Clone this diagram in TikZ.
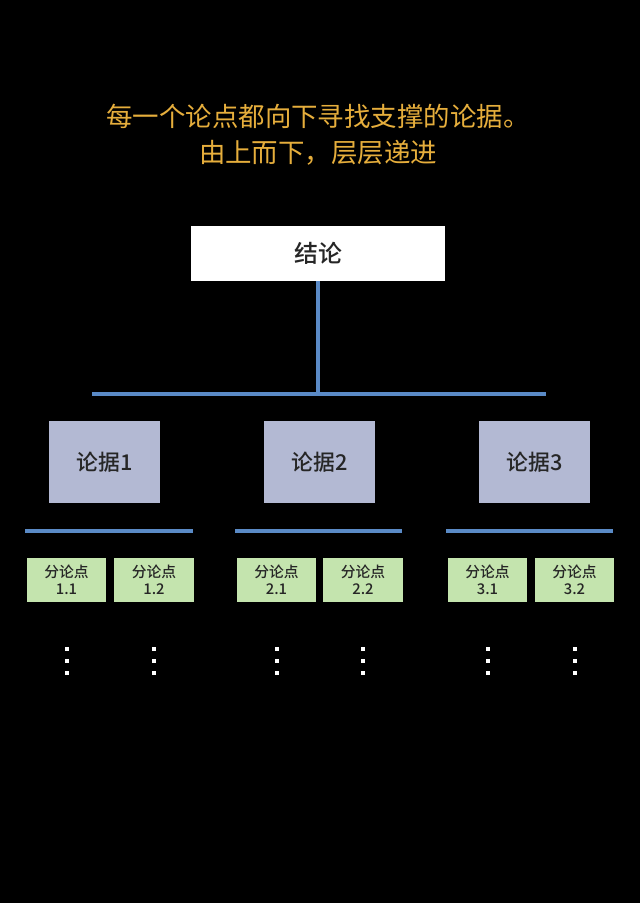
\documentclass[tikz,border=0pt]{standalone}
\usepackage{fontspec}
\setmainfont{Noto Sans CJK SC}
\newfontfamily\boxfont{Noto Sans CJK SC Medium}
\usetikzlibrary{positioning}
\definecolor{gold}{HTML}{E6AE3C}
\definecolor{linkblue}{HTML}{5A8AC6}
\definecolor{lavender}{HTML}{B3B9D3}
\definecolor{leafgreen}{HTML}{C4E4AE}
\begin{document}
\begin{tikzpicture}[
    x=0.025cm, y=-0.025cm,
    every node/.style={inner sep=0pt, text=black!85},
    concl/.style={fill=white, minimum width=6.35cm, minimum height=1.375cm, font=\boxfont\fontsize{17}{19}\selectfont},
    arg/.style={fill=lavender, minimum width=2.775cm, minimum height=2.025cm, font=\boxfont\fontsize{15.5}{17}\selectfont},
    sub/.style={fill=leafgreen, minimum width=1.975cm, minimum height=1.1cm, align=center, font=\boxfont\fontsize{10.5}{12}\selectfont},
    bar/.style={draw=linkblue, line width=2.8pt}
]
\useasboundingbox (0,0) rectangle (640,903);
\fill[black] (0,0) rectangle (640,903);
% title
\node[text=gold, align=center, font=\fontsize{18.8}{25.6}\selectfont] (title) at (318,135)
  {每一个论点都向下寻找支撑的论据。\\由上而下，层层递进};
% conclusion and its bar
\node[concl] (top) at (318,253.5) {结论};
\coordinate (hub) at (318,394);
\draw[bar] (92,394) -- (546,394);
\draw[bar] (top.south) -- (hub);
% arguments
\node[arg] (arg1) at (104.5,462) {论据1};
\node[arg] (arg2) at (319.5,462) {论据2};
\node[arg] (arg3) at (534.5,462) {论据3};
\draw[bar] (25,531) -- (193,531);
\draw[bar] (235,531) -- (402,531);
\draw[bar] (446,531) -- (613,531);
% sub points
\foreach \x/\lbl in {66.5/1.1, 154/1.2, 276.5/2.1, 363/2.2, 487.5/3.1, 574.5/3.2} {
  \node[sub] (sub\lbl) at (\x,580) {分论点\\\lbl};
  \foreach \y in {649,661,673}
    \fill[white] (\x-2,\y-2) rectangle (\x+2,\y+2);
}
\end{tikzpicture}
\end{document}
